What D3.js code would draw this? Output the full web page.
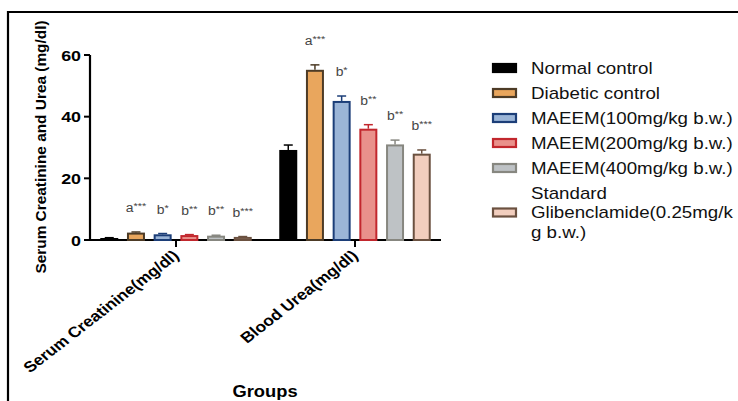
<!DOCTYPE html>
<html><head><meta charset="utf-8">
<script src="https://cdn.jsdelivr.net/npm/d3@7"></script>
<style>
html,body{margin:0;padding:0;background:#fff;}
svg{display:block;font-family:"Liberation Sans",Arial,sans-serif;}
</style></head>
<body>
<svg id="c" width="738" height="401"></svg>
<script>
// ---- data ----
const groups = ["Serum Creatinine(mg/dl)", "Blood Urea(mg/dl)"];
const series = ["Normal control", "Diabetic control", "MAEEM(100mg/kg b.w.)", "MAEEM(200mg/kg b.w.)", "MAEEM(400mg/kg b.w.)", "Standard Glibenclamide(0.25mg/kg b.w.)"];
const creatinine = [0.65, 2.4, 1.85, 1.6, 1.4, 1.0];
const creatinineErr = [0.1, 0.2, 0.25, 0.15, 0.15, 0.12];
const urea = [29.2, 55.2, 45.1, 36.1, 31.0, 28.0];
const ureaErr = [1.6, 1.6, 1.6, 1.3, 1.4, 1.2];
const creatinineSig = ["", "a***", "b*", "b**", "b**", "b***"];
const ureaSig = ["", "a***", "b*", "b**", "b**", "b***"];
const yTicks = [0, 20, 40, 60];
const legendLines = [["Normal control"], ["Diabetic control"], ["MAEEM(100mg/kg b.w.)"], ["MAEEM(200mg/kg b.w.)"], ["MAEEM(400mg/kg b.w.)"], ["Standard", "Glibenclamide(0.25mg/k", "g b.w.)"]];
const fills = ["#000000", "#E9A65D", "#9BB5D7", "#E9918B", "#BEC2C5", "#F2CEBE"];
const strokes = ["#000000", "#4D3B26", "#1C3E78", "#C2272D", "#878780", "#6B5140"];

const values = [creatinine, urea], errs = [creatinineErr, ureaErr], sigs = [creatinineSig, ureaSig];
const SX = 1.16; // horizontal text stretch seen in reference

const svg = d3.select("#c");
// frame
svg.append("line").attr("x1", 8).attr("x2", 738).attr("y1", 12).attr("y2", 12).attr("stroke", "#000").attr("stroke-width", 2.2);
svg.append("line").attr("x1", 8).attr("x2", 8).attr("y1", 11).attr("y2", 401).attr("stroke", "#000").attr("stroke-width", 2.2);

const y = d3.scaleLinear().domain([0, 60]).range([240, 55]);
const x0 = d3.scaleBand().domain(groups).range([90, 441]).paddingInner(0.106).paddingOuter(0.0335);
const x1 = d3.scaleBand().domain(series).range([0, x0.bandwidth()]).paddingInner(0.326).paddingOuter(0.16);

function stretchedText(g, x, yy, txt, extra, sx) {
  return g.append("text").attr("transform", `translate(${x},${yy}) scale(${sx || SX},1)` + (extra || "")).text(txt);
}

// y axis
const yAx = svg.append("g").attr("transform", "translate(90,0)");
yAx.append("line").attr("x1", 0).attr("x2", 0).attr("y1", y(60)).attr("y2", y(0) + 1).attr("stroke", "#000").attr("stroke-width", 2.2);
yTicks.forEach(t => {
  yAx.append("line").attr("x1", -6).attr("x2", 0).attr("y1", y(t)).attr("y2", y(t)).attr("stroke", "#000").attr("stroke-width", 2);
  stretchedText(yAx, -9, y(t) + 5.5, t).attr("text-anchor", "end").attr("font-size", 15.4).attr("font-weight", "bold");
});
// x axis
svg.append("line").attr("x1", 89).attr("x2", 441).attr("y1", y(0)).attr("y2", y(0)).attr("stroke", "#000").attr("stroke-width", 2.2);
groups.forEach(gname => {
  const cx = x0(gname) + x0.bandwidth() / 2;
  svg.append("line").attr("x1", cx).attr("x2", cx).attr("y1", y(0)).attr("y2", y(0) + 7).attr("stroke", "#000").attr("stroke-width", 2);
  stretchedText(svg, cx + 4, y(0) + 17, gname, " rotate(-42)").attr("text-anchor", "end").attr("font-size", 15).attr("font-weight", "bold");
});

// bars
groups.forEach((gname, gi) => {
  const g = svg.append("g").attr("transform", `translate(${x0(gname)},0)`);
  series.forEach((s, si) => {
    const v = values[gi][si], e = errs[gi][si];
    const bx = x1(s), bw = x1.bandwidth(), cx = bx + bw / 2;
    // error bar
    g.append("line").attr("x1", cx).attr("x2", cx).attr("y1", y(v)).attr("y2", y(v + e)).attr("stroke", strokes[si]).attr("stroke-width", 1.5);
    g.append("line").attr("x1", cx - 4.5).attr("x2", cx + 4.5).attr("y1", y(v + e)).attr("y2", y(v + e)).attr("stroke", strokes[si]).attr("stroke-width", 1.5);
    g.append("rect").attr("x", bx + 1).attr("width", bw - 2).attr("y", y(v) + 1).attr("height", Math.max(0, y(0) - y(v) - 1))
      .attr("fill", fills[si]).attr("stroke", strokes[si]).attr("stroke-width", 2);
    const sig = sigs[gi][si];
    if (sig) {
      const t = g.append("text").attr("transform", `translate(${cx},${y(v + e) - 20}) scale(${SX},1)`)
        .attr("text-anchor", "middle").attr("font-size", 12).attr("fill", "#444");
      t.append("tspan").text(sig[0]);
      t.append("tspan").attr("dy", -3).attr("font-size", 9.5).text(sig.slice(1));
    }
  });
});

// y title
svg.append("text").attr("transform", `translate(46,${147}) rotate(-90)`).attr("text-anchor", "middle")
  .attr("font-size", 15.4).attr("font-weight", "bold").text("Serum Creatinine and Urea (mg/dl)");
// x title
stretchedText(svg, 265, 397, "Groups").attr("text-anchor", "middle").attr("font-size", 15.8).attr("font-weight", "bold");

// legend
const rowY = [68, 93, 118, 143, 168, 212.5];
const leg = svg.append("g");
legendLines.forEach((lines, i) => {
  leg.append("rect").attr("x", 493).attr("y", rowY[i] - 4).attr("width", 23).attr("height", 8)
    .attr("fill", fills[i]).attr("stroke", strokes[i]).attr("stroke-width", 2.2);
  const n = lines.length;
  lines.forEach((ln, k) => {
    const by = rowY[i] + 5.8 + (k - (n - 1) / 2) * 19.5;
    stretchedText(leg, 531, by, ln, "", 1.17).attr("font-size", 16).attr("fill", "#111");
  });
});
</script>
</body></html>
